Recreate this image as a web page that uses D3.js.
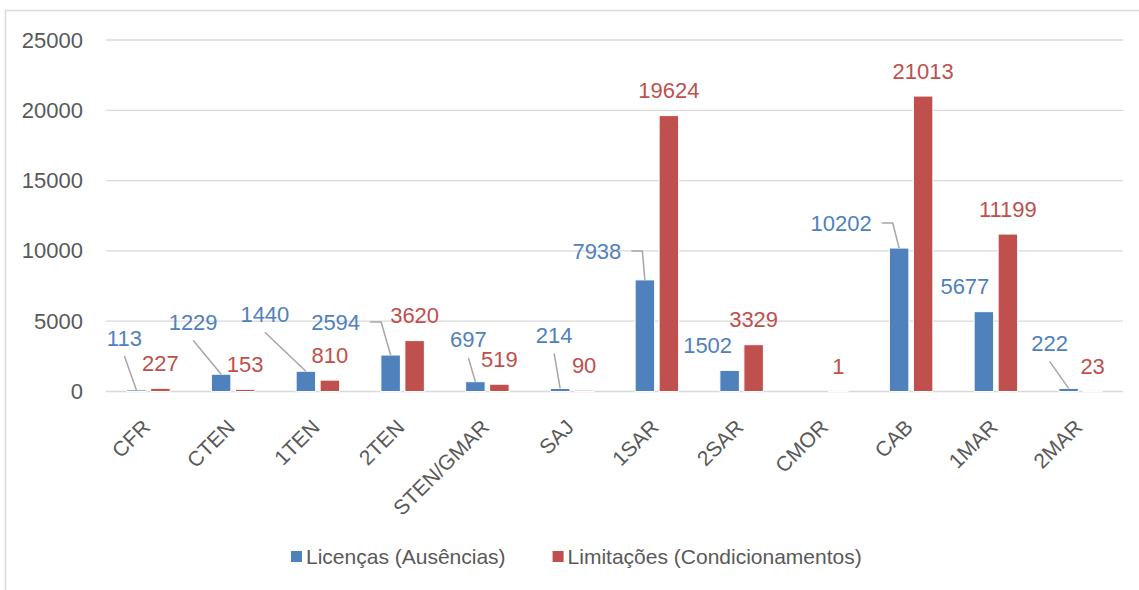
<!DOCTYPE html>
<html>
<head>
<meta charset="utf-8">
<script src="https://cdn.jsdelivr.net/npm/d3@7"></script>
<style>
  body { margin: 0; background: #fff; }
  text { font-family: "Liberation Sans", Arial, sans-serif; }
</style>
</head>
<body>
<div id="chart"></div>
<script>
// data
var categories = ["CFR", "CTEN", "1TEN", "2TEN", "STEN/GMAR", "SAJ", "1SAR", "2SAR", "CMOR", "CAB", "1MAR", "2MAR"];
var licencas = [113, 1229, 1440, 2594, 697, 214, 7938, 1502, null, 10202, 5677, 222];
var limitacoes = [227, 153, 810, 3620, 519, 90, 19624, 3329, 1, 21013, 11199, 23];
var yTicks = [0, 5000, 10000, 15000, 20000, 25000];
var seriesNames = ["Licenças (Ausências)", "Limitações (Condicionamentos)"];
var seriesColors = ["#4f81bd", "#c0504d"];

// hand-moved labels (blue series), like in the original sheet
var labelNudge = {
    "CFR": { dx: -12, dy: -27, leader: "below" },
    "CTEN": { dx: -28, dy: -27, leader: "below" },
    "1TEN": { dx: -41, dy: -32, leader: "below" },
    "2TEN": { dx: -55, dy: -8, leader: "side" },
    "STEN/GMAR": { dx: -7, dy: -17, leader: "below" },
    "SAJ": { dx: -6, dy: -28, leader: "below" },
    "1SAR": { dx: -48, dy: -4, leader: "side" },
    "2SAR": { dx: -22, dy: 0 },
    "CAB": { dx: -58, dy: 0, leader: "side" },
    "1MAR": { dx: -19, dy: 0 },
    "2MAR": { dx: -19, dy: -20, leader: "below" }
};

var svgWidth = 1139;
var svgHeight = 590;
var plot = { left: 106, right: 1123, top: 40, bottom: 391.5 };
var gridColor = "#d9d9d9";
var textColor = "#595959";
var fontSize = 21;
var numSize = 22;

var svg = d3.select("#chart")
    .append("svg")
    .attr("width", svgWidth)
    .attr("height", svgHeight);

// chart area border (top and left visible)
svg.append("path")
    .attr("d", "M5.5,590 V10.5 H1139")
    .attr("fill", "none")
    .attr("stroke", gridColor)
    .attr("stroke-width", 1.5);

var x0 = d3.scaleBand()
    .domain(categories)
    .range([plot.left, plot.right])
    .paddingInner(0.487)
    .paddingOuter(0.2435);

var x1 = d3.scaleBand()
    .domain([0, 1])
    .range([0, x0.bandwidth()])
    .paddingInner(0.1875);

var y = d3.scaleLinear()
    .domain([0, 25000])
    .range([plot.bottom, plot.top]);

// gridlines
svg.append("g")
    .selectAll("line")
    .data(yTicks)
    .enter()
    .append("line")
    .attr("x1", plot.left)
    .attr("x2", plot.right)
    .attr("y1", d => y(d))
    .attr("y2", d => y(d))
    .attr("stroke", gridColor)
    .attr("stroke-width", d => d === 0 ? 1.5 : 1.3);

// y axis labels
var yAxis = d3.axisLeft(y).tickValues(yTicks).tickFormat(d3.format("d")).tickSize(0).tickPadding(23);
var yAxisG = svg.append("g")
    .attr("transform", `translate(${plot.left}, 0)`)
    .call(yAxis);
yAxisG.select(".domain").remove();
yAxisG.selectAll("text")
    .attr("font-size", numSize)
    .attr("font-family", "Liberation Sans, Arial, sans-serif")
    .attr("fill", textColor);

// x axis labels
var xAxis = d3.axisBottom(x0).tickSize(0).tickPadding(0);
var xAxisG = svg.append("g")
    .attr("transform", `translate(0, ${plot.bottom})`)
    .call(xAxis);
xAxisG.select(".domain").remove();
xAxisG.selectAll("text")
    .attr("font-size", fontSize)
    .attr("font-family", "Liberation Sans, Arial, sans-serif")
    .attr("fill", textColor)
    .attr("text-anchor", "end")
    .attr("y", 0)
    .attr("dy", 0)
    .attr("transform", "translate(3, 37) rotate(-45)");

// bars
var rows = [];
categories.forEach(function(c, i) {
    [licencas[i], limitacoes[i]].forEach(function(v, s) {
        if (v !== null) rows.push({ cat: c, series: s, value: v });
    });
});

function barX(d) { return x0(d.cat) + x1(d.series); }
function barCx(d) { return barX(d) + x1.bandwidth() / 2; }

svg.append("g")
    .selectAll("rect")
    .data(rows)
    .enter()
    .append("rect")
    .attr("x", d => barX(d))
    .attr("y", d => y(d.value))
    .attr("width", x1.bandwidth())
    .attr("height", d => y(0) - y(d.value))
    .attr("fill", d => seriesColors[d.series])
    .attr("stroke", "#fff")
    .attr("stroke-width", 1);

// data labels
var leaderG = svg.append("g");
var labelG = svg.append("g");

rows.forEach(function(d) {
    var nudge = d.series === 0 ? labelNudge[d.cat] : null;
    var lx = barCx(d) + (nudge ? nudge.dx : 0);
    var ly = y(d.value) - 25 + (nudge ? nudge.dy : 0);
    var t = labelG.append("text")
        .attr("x", lx)
        .attr("y", ly)
        .attr("dy", "0.35em")
        .attr("text-anchor", "middle")
        .attr("font-size", numSize)
        .attr("fill", seriesColors[d.series])
        .text(d.value);
    if (nudge && nudge.leader) {
        var tx = barCx(d), ty = y(d.value);
        var pts;
        if (nudge.leader === "below") {
            pts = [[lx, ly + 18], [tx, ty]];
        } else {
            var right = lx + t.node().getComputedTextLength() / 2 + 10;
            pts = [[right, ly], [right + 11, ly], [tx, ty]];
        }
        leaderG.append("path")
            .attr("d", d3.line()(pts))
            .attr("fill", "none")
            .attr("stroke", "#a6a6a6")
            .attr("stroke-width", 1.5);
    }
});

// legend
var legend = svg.append("g").attr("transform", "translate(0, 557)");
var lx = 291;
seriesNames.forEach(function(name, i) {
    legend.append("rect")
        .attr("x", lx)
        .attr("y", -6)
        .attr("width", 11)
        .attr("height", 11)
        .attr("fill", seriesColors[i]);
    var t = legend.append("text")
        .attr("x", lx + 15)
        .attr("y", 0)
        .attr("dy", "0.35em")
        .attr("font-size", fontSize)
        .attr("fill", textColor)
        .text(name);
    lx += 15 + t.node().getComputedTextLength() + 47;
});
</script>
</body>
</html>
